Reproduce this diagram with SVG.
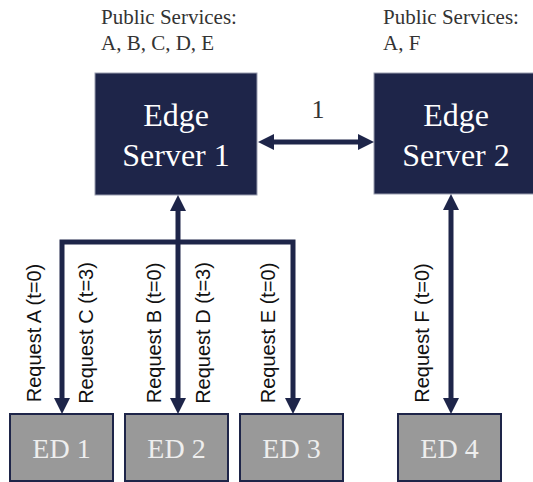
<svg xmlns="http://www.w3.org/2000/svg" width="533" height="482" viewBox="0 0 533 482">
  <style>
    .server { fill: #1e2549; stroke: #9a9eb0; stroke-width: 1; }
    .device { fill: #999999; stroke: #1e2549; stroke-width: 2; }
    .serif { font-family: "Times New Roman", "Liberation Serif", Tinos, "Noto Serif", "DejaVu Serif", serif; }
    .srv-label { font-size: 32px; fill: #ffffff; text-anchor: middle; }
    .dev-label { font-size: 28px; fill: #eeeeee; text-anchor: middle; }
    .note { font-size: 21px; fill: #333333; }
    .req { font-family: "Liberation Sans", Arial, sans-serif; font-size: 20px; fill: #111111; text-anchor: middle; }
    .link { fill: none; stroke: #1e2549; stroke-width: 5; stroke-linejoin: miter; }
  </style>
  <defs>
    <marker id="head" viewBox="0 0 16 16" refX="2" refY="8" markerWidth="16" markerHeight="16" markerUnits="userSpaceOnUse" orient="auto-start-reverse">
      <path d="M0,0 L16,8 L0,16 z" fill="#1e2549"/>
    </marker>
  </defs>
  <rect width="533" height="482" fill="#ffffff"/>

  <!-- service lists above each server -->
  <g id="services-1">
    <text class="serif note" x="101" y="24">Public Services:</text>
    <text class="serif note" x="101" y="50">A, B, C, D, E</text>
  </g>
  <g id="services-2">
    <text class="serif note" x="383" y="24">Public Services:</text>
    <text class="serif note" x="383" y="50">A, F</text>
  </g>

  <!-- edge servers -->
  <g id="edge-server-1">
    <rect class="server" x="95" y="73" width="162" height="122"/>
    <text class="serif srv-label" x="176" y="126">Edge</text>
    <text class="serif srv-label" x="176" y="166">Server 1</text>
  </g>
  <g id="edge-server-2">
    <rect class="server" x="374" y="73" width="164" height="121"/>
    <text class="serif srv-label" x="456" y="126">Edge</text>
    <text class="serif srv-label" x="456" y="166">Server 2</text>
  </g>

  <!-- end devices -->
  <g id="ed-1">
    <rect class="device" x="10" y="414" width="103" height="67"/>
    <text class="serif dev-label" x="61.5" y="458">ED 1</text>
  </g>
  <g id="ed-2">
    <rect class="device" x="125" y="414" width="103" height="67"/>
    <text class="serif dev-label" x="176.5" y="458">ED 2</text>
  </g>
  <g id="ed-3">
    <rect class="device" x="240" y="414" width="103" height="67"/>
    <text class="serif dev-label" x="291.5" y="458">ED 3</text>
  </g>
  <g id="ed-4">
    <rect class="device" x="398" y="414" width="103" height="67"/>
    <text class="serif dev-label" x="449.5" y="458">ED 4</text>
  </g>

  <!-- connectors -->
  <g id="connectors">
    <line class="link" x1="272" y1="142" x2="360" y2="142" marker-start="url(#head)" marker-end="url(#head)"/>
    <line class="link" x1="178" y1="209" x2="178" y2="400" marker-start="url(#head)" marker-end="url(#head)"/>
    <path class="link" d="M178,242 H62 V400" marker-end="url(#head)"/>
    <path class="link" d="M178,242 H293 V400" marker-end="url(#head)"/>
    <line class="link" x1="451" y1="208" x2="451" y2="400" marker-start="url(#head)" marker-end="url(#head)"/>
    <text class="serif" x="318" y="118" font-size="26" fill="#333333" text-anchor="middle">1</text>
  </g>

  <!-- request labels along the links -->
  <g id="request-labels">
    <text class="req" transform="translate(41,333) rotate(-90)">Request A (t=0)</text>
    <text class="req" transform="translate(93,333) rotate(-90)">Request C (t=3)</text>
    <text class="req" transform="translate(161,333) rotate(-90)">Request B (t=0)</text>
    <text class="req" transform="translate(210,333) rotate(-90)">Request D (t=3)</text>
    <text class="req" transform="translate(275,333) rotate(-90)">Request E (t=0)</text>
    <text class="req" transform="translate(429,333) rotate(-90)">Request F (t=0)</text>
  </g>
</svg>
